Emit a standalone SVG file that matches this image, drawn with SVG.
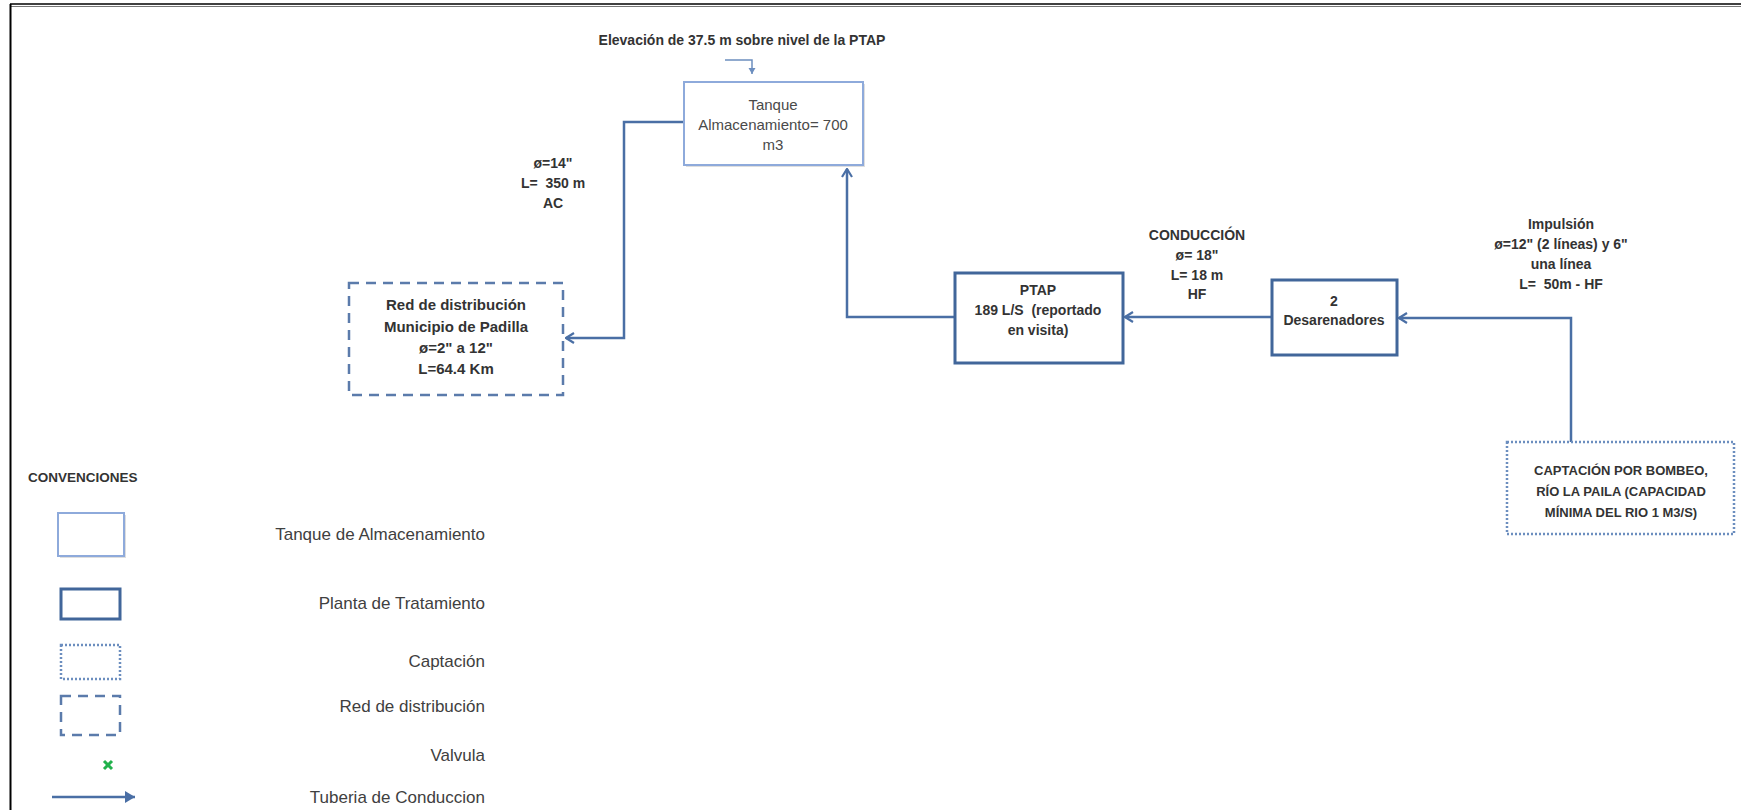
<svg xmlns="http://www.w3.org/2000/svg" width="1741" height="810" viewBox="0 0 1741 810">
<defs>
<style>
.b{font-family:"Liberation Sans",Arial,sans-serif;font-weight:bold;font-size:14px;fill:#333;text-anchor:middle}
.bc{font-family:"Liberation Sans",Arial,sans-serif;font-weight:bold;font-size:13px;fill:#333;text-anchor:middle}
.bl{font-family:"Liberation Sans",Arial,sans-serif;font-weight:bold;font-size:15px;fill:#333;text-anchor:middle}
.r{font-family:"Liberation Sans",Arial,sans-serif;font-size:15px;fill:#4a4a4a;text-anchor:middle}
.lg{font-family:"Liberation Sans",Arial,sans-serif;font-size:17px;fill:#404040;text-anchor:end}
.pipe{fill:none;stroke:#4a6fa5;stroke-width:2.5}
.tank{fill:#fff;stroke:#8eaadb;stroke-width:2}
.shadow{fill:#c8c8c8;opacity:.6}
.plant{fill:#fff;stroke:#41669a;stroke-width:3}
.red{fill:#fff;stroke:#5b7bab;stroke-width:2.5;stroke-dasharray:10 7}
.cap{fill:#fff;stroke:#6c8ebf;stroke-width:2.5;stroke-dasharray:2 2}
</style>
<marker id="chev" viewBox="0 0 12 12" refX="11" refY="6" markerWidth="12" markerHeight="12" markerUnits="userSpaceOnUse" orient="auto">
<path d="M3,1 L11,6 L3,11" fill="none" stroke="#4a6fa5" stroke-width="2.2"/>
</marker>
<marker id="small" viewBox="0 0 8 8" refX="7" refY="4" markerWidth="8" markerHeight="8" markerUnits="userSpaceOnUse" orient="auto">
<path d="M1,0.5 L7,4 L1,7.5 Z" fill="#6c8ebf"/>
</marker>
<marker id="tri" viewBox="0 0 12 12" refX="11" refY="6" markerWidth="12" markerHeight="12" markerUnits="userSpaceOnUse" orient="auto">
<path d="M1,0 L11,6 L1,12 Z" fill="#4a6fa5"/>
</marker>
</defs>
<rect width="1741" height="810" fill="#fff"/>
<g id="frame">
<line x1="10" y1="4" x2="1741" y2="4" stroke="#000" stroke-width="1.5"/>
<line x1="10" y1="6.5" x2="1741" y2="6.5" stroke="#777" stroke-width="1"/>
<line x1="10.5" y1="4" x2="10.5" y2="810" stroke="#000" stroke-width="2"/>
</g>
<g id="connectors">
<path class="pipe" d="M684,122 H624 V338 H566" marker-end="url(#chev)"/>
<path class="pipe" d="M955,317 H847 V169" marker-end="url(#chev)"/>
<path class="pipe" d="M1272,317 H1125" marker-end="url(#chev)"/>
<path class="pipe" d="M1571,442 V318 H1399" marker-end="url(#chev)"/>
<path d="M725,60 H752 V74" fill="none" stroke="#6c8ebf" stroke-width="1.5" marker-end="url(#small)"/>
</g>
<g id="elevacion">
<text class="b" x="742" y="45">Elevación de 37.5 m sobre nivel de la PTAP</text>
</g>
<g id="tanque">
<rect class="shadow" x="686" y="84" width="179" height="83"/>
<rect class="tank" x="684" y="82" width="179" height="83"/>
<text class="r" x="773" y="110">Tanque</text>
<text class="r" x="773" y="130">Almacenamiento= 700</text>
<text class="r" x="773" y="150">m3</text>
</g>
<g id="label-ac">
<text class="b" x="553" y="168">ø=14"</text>
<text class="b" x="553" y="188" xml:space="preserve">L=  350 m</text>
<text class="b" x="553" y="208">AC</text>
</g>
<g id="red">
<rect class="red" x="349" y="283" width="214" height="112"/>
<text class="bl" x="456" y="310">Red de distribución</text>
<text class="bl" x="456" y="332">Municipio de Padilla</text>
<text class="bl" x="456" y="353">ø=2" a 12"</text>
<text class="bl" x="456" y="374">L=64.4 Km</text>
</g>
<g id="ptap">
<rect class="plant" x="955" y="273" width="168" height="90"/>
<text class="b" x="1038" y="295">PTAP</text>
<text class="b" x="1038" y="315" xml:space="preserve">189 L/S  (reportado</text>
<text class="b" x="1038" y="335">en visita)</text>
</g>
<g id="label-conduccion">
<text class="b" x="1197" y="240">CONDUCCIÓN</text>
<text class="b" x="1197" y="260">ø= 18"</text>
<text class="b" x="1197" y="280">L= 18 m</text>
<text class="b" x="1197" y="299">HF</text>
</g>
<g id="desarenadores">
<rect class="plant" x="1272" y="280" width="125" height="75"/>
<text class="b" x="1334" y="306">2</text>
<text class="b" x="1334" y="325">Desarenadores</text>
</g>
<g id="label-impulsion">
<text class="b" x="1561" y="229">Impulsión</text>
<text class="b" x="1561" y="249">ø=12" (2 líneas) y 6"</text>
<text class="b" x="1561" y="269">una línea</text>
<text class="b" x="1561" y="289" xml:space="preserve">L=  50m - HF</text>
</g>
<g id="captacion">
<rect class="cap" x="1507" y="442" width="227" height="92"/>
<text class="bc" x="1621" y="475">CAPTACIÓN POR BOMBEO,</text>
<text class="bc" x="1621" y="496">RÍO LA PAILA (CAPACIDAD</text>
<text class="bc" x="1621" y="517">MÍNIMA DEL RIO 1 M3/S)</text>
</g>
<g id="legend">
<text x="28" y="482" font-family="Liberation Sans, Arial, sans-serif" font-weight="bold" font-size="13.5" fill="#333">CONVENCIONES</text>
<rect class="shadow" x="60" y="515" width="66" height="43"/>
<rect class="tank" x="58" y="513" width="66" height="43"/>
<text class="lg" x="485" y="540">Tanque de Almacenamiento</text>
<rect class="plant" x="61" y="589" width="59" height="30"/>
<text class="lg" x="485" y="609">Planta de Tratamiento</text>
<rect class="cap" x="61" y="645" width="59" height="34"/>
<text class="lg" x="485" y="667">Captación</text>
<rect class="red" x="61" y="696" width="59" height="39"/>
<text class="lg" x="485" y="712">Red de distribución</text>
<path d="M104,761 L112,769 M112,761 L104,769" stroke="#22b14c" stroke-width="3"/>
<text class="lg" x="485" y="761">Valvula</text>
<path class="pipe" d="M52,797 H135" stroke-width="3" marker-end="url(#tri)"/>
<text class="lg" x="485" y="803">Tuberia de Conduccion</text>
</g>
</svg>
